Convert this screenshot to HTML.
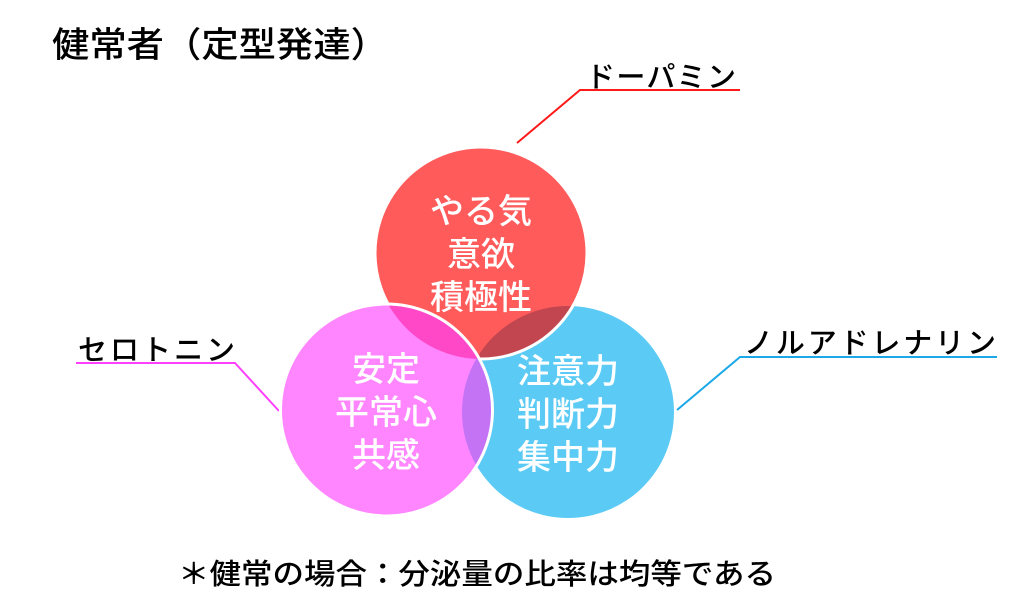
<!DOCTYPE html>
<html><head><meta charset="utf-8"><style>
html,body{margin:0;padding:0;background:#fff;width:1024px;height:602px;overflow:hidden}
svg{display:block}
text{font-family:"Liberation Sans","Noto Sans CJK JP",sans-serif;font-weight:500}
</style></head><body>
<svg width="1024" height="602" viewBox="0 0 1024 602">
<defs>
<clipPath id="cr"><circle cx="481" cy="253" r="106"/></clipPath>
<clipPath id="cp"><circle cx="386.5" cy="410" r="106"/></clipPath>
<clipPath id="cb"><circle cx="568" cy="412" r="106"/></clipPath>
</defs>
<text x="52" y="57" font-size="35" fill="#000" textLength="336" lengthAdjust="spacingAndGlyphs">健常者（定型発達）</text>
<polyline points="517,143 580,90 740,90" fill="none" stroke="#ff1a1a" stroke-width="2"/>
<polyline points="279,411 235,363 76,363" fill="none" stroke="#ff40ff" stroke-width="2"/>
<polyline points="677,410 740,357 997,357" fill="none" stroke="#1aa8e8" stroke-width="2"/>
<text x="586" y="87" font-size="29" textLength="150" lengthAdjust="spacing">ドーパミン</text>
<text x="78" y="360" font-size="29" textLength="157" lengthAdjust="spacing">セロトニン</text>
<text x="744" y="353" font-size="29" textLength="252" lengthAdjust="spacing">ノルアドレナリン</text>
<circle cx="568" cy="412" r="106" fill="#5bcbf5"/>
<circle cx="481" cy="253" r="106" fill="#ff5b5b"/>
<g clip-path="url(#cb)"><circle cx="481" cy="253" r="106" fill="#c24650"/></g>
<circle cx="481" cy="253" r="106" fill="none" stroke="#fff" stroke-width="3"/>
<circle cx="386.5" cy="410" r="106" fill="#ff86ff"/>
<g clip-path="url(#cr)"><circle cx="386.5" cy="410" r="106" fill="#ff48c8"/></g>
<g clip-path="url(#cb)"><circle cx="386.5" cy="410" r="106" fill="#c473f5"/></g>
<g clip-path="url(#cb)"><g clip-path="url(#cr)"><circle cx="386.5" cy="410" r="106" fill="#b04a9a"/></g></g>
<circle cx="386.5" cy="410" r="106" fill="none" stroke="#fff" stroke-width="3"/>
<g font-size="34" fill="#fff" text-anchor="middle">
<text x="481" y="223">やる気</text>
<text x="481" y="266">意欲</text>
<text x="481" y="309">積極性</text>
<text x="386" y="381">安定</text>
<text x="386" y="424">平常心</text>
<text x="386" y="467">共感</text>
<text x="568" y="383">注意力</text>
<text x="568" y="426">判断力</text>
<text x="568" y="469">集中力</text>
</g>
<text x="178" y="584" font-size="29" textLength="598" lengthAdjust="spacingAndGlyphs">＊健常の場合：分泌量の比率は均等である</text>
</svg>
</body></html>
